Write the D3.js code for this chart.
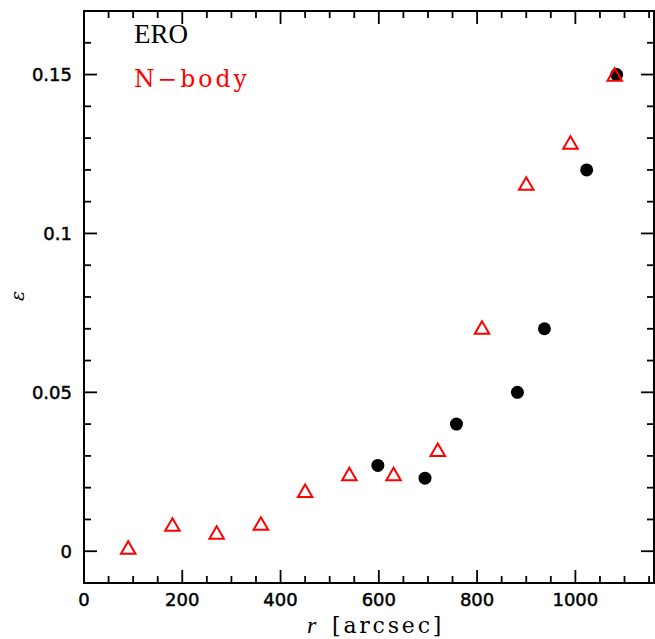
<!DOCTYPE html>
<html><head><meta charset="utf-8">
<script src="https://cdn.jsdelivr.net/npm/d3@7"></script>
<style>body{margin:0;background:#fff}svg{display:block}</style>
</head><body>
<svg id="c" width="655" height="639"></svg>
<script>
const eroR = [598, 694, 758, 882, 937, 1023, 1084];
const eroE = [0.027, 0.023, 0.040, 0.050, 0.070, 0.120, 0.150];
const nbodyR = [90, 180, 270, 360, 450, 540, 630, 720, 810, 900, 990, 1080];
const nbodyE = [0.0012, 0.0084, 0.0059, 0.0087, 0.019, 0.0243, 0.0243, 0.0319, 0.0704, 0.1157, 0.1286, 0.150];
const xMajor = [0, 200, 400, 600, 800, 1000];
const yMajor = [0, 0.05, 0.1, 0.15];
const yLabels = ["0", "0.05", "0.1", "0.15"];

const svg = d3.select("#c");
const L = 84, R = 654, T = 11, B = 583;
const x = d3.scaleLinear().domain([0, 1160]).range([L, R]);
const y = d3.scaleLinear().domain([-0.01, 0.17]).range([B, T]);

const xMinor = d3.range(0, 1160, 50).filter(v => v % 200 !== 0);
const yMinor = d3.range(-0.01, 0.1701, 0.01).map(v => +v.toFixed(2)).filter(v => Math.round(v * 100) % 5 !== 0);

const g = svg.append("g");
g.append("rect").attr("x", L).attr("y", T).attr("width", R - L).attr("height", B - T)
  .attr("fill", "none").attr("stroke", "#000").attr("stroke-width", 2);

function ticks(vals, len) {
  vals.forEach(v => {
    const xv = x(v);
    g.append("line").attr("x1", xv).attr("x2", xv).attr("y1", B).attr("y2", B - len)
      .attr("stroke", "#000").attr("stroke-width", 1.8);
    g.append("line").attr("x1", xv).attr("x2", xv).attr("y1", T).attr("y2", T + len)
      .attr("stroke", "#000").attr("stroke-width", 1.8);
  });
}
function yticks(vals, len) {
  vals.forEach(v => {
    const yv = y(v);
    g.append("line").attr("y1", yv).attr("y2", yv).attr("x1", L).attr("x2", L + len)
      .attr("stroke", "#000").attr("stroke-width", 1.8);
    g.append("line").attr("y1", yv).attr("y2", yv).attr("x1", R).attr("x2", R - len)
      .attr("stroke", "#000").attr("stroke-width", 1.8);
  });
}
ticks(xMajor, 13); ticks(xMinor, 7);
yticks(yMajor, 13); yticks(yMinor, 7);

const lblStyle = s => s.attr("font-family", "DejaVu Sans, sans-serif")
  .attr("font-size", 18).attr("fill", "#000").attr("stroke", "#000").attr("stroke-width", 0.5);

xMajor.forEach(v => {
  g.append("text").attr("x", x(v)).attr("y", 606).attr("text-anchor", "middle")
    .text(String(v)).call(lblStyle);
});
yMajor.forEach((v, i) => {
  g.append("text").attr("x", 72).attr("y", y(v) + 6.5).attr("text-anchor", "end")
    .text(yLabels[i]).call(lblStyle);
});

const xt = g.append("text").attr("y", 633).attr("fill", "#000");
xt.append("tspan").attr("x", 307).attr("font-family", "Liberation Serif, serif")
  .attr("font-style", "italic").attr("font-size", 24).text("r");
xt.append("tspan").attr("x", 332).attr("font-family", "DejaVu Serif, serif")
  .attr("font-size", 22).attr("letter-spacing", 2.8).text("[arcsec]");

g.append("text").attr("transform", "translate(24,296) rotate(-90)")
  .attr("text-anchor", "middle").attr("font-family", "DejaVu Serif, serif")
  .attr("font-style", "italic").attr("font-size", 19).text("ε");

g.append("text").attr("x", 134).attr("y", 43).attr("font-family", "Liberation Serif, serif")
  .attr("font-size", 27).attr("fill", "#000").text("ERO");
g.append("text").attr("x", 134).attr("y", 87).attr("font-family", "DejaVu Serif, serif")
  .attr("font-size", 23.5).attr("letter-spacing", 3).attr("fill", "#ff0000").text("N−body");

g.selectAll("circle.ero").data(eroR.map((r, i) => [r, eroE[i]])).enter()
  .append("circle").attr("class", "ero")
  .attr("cx", d => x(d[0])).attr("cy", d => y(d[1])).attr("r", 6.5).attr("fill", "#000");

const tw = 14.5, th = 12.5;
g.selectAll("path.nb").data(nbodyR.map((r, i) => [r, nbodyE[i]])).enter()
  .append("path").attr("class", "nb")
  .attr("transform", d => `translate(${x(d[0])},${y(d[1])})`)
  .attr("d", `M0,${-th/2}L${tw/2},${th/2}L${-tw/2},${th/2}Z`)
  .attr("fill", "none").attr("stroke", "#ff0000").attr("stroke-width", 2);
</script>
</body></html>
